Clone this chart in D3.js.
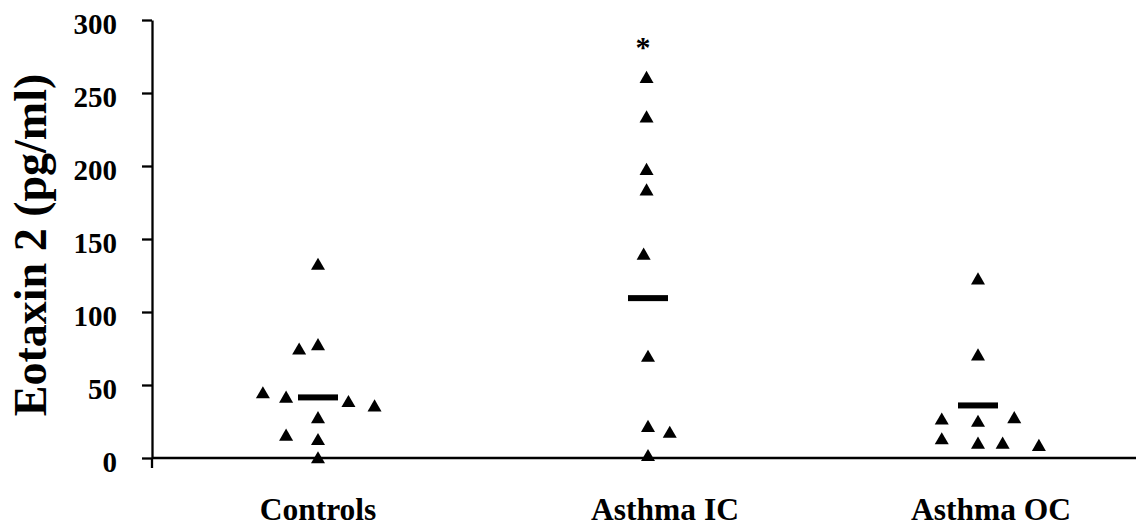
<!DOCTYPE html>
<html>
<head>
<meta charset="utf-8">
<script src="https://cdn.jsdelivr.net/npm/d3@7"></script>
<style>
  body { margin: 0; background: #fff; }
  text { font-family: "Liberation Serif", "Times New Roman", serif; font-weight: bold; fill: #000; }
</style>
</head>
<body>
<svg id="chart" width="1136" height="529"></svg>
<script>
// groups on the x axis
const categories = ["Controls", "Asthma IC", "Asthma OC"]
const yTicks = [0, 50, 100, 150, 200, 250, 300]

// eotaxin 2 values (pg/ml)
const controlsValues = [133, 75, 78, 45, 42, 39, 36, 28, 16, 13, 0.5]
const asthmaICValues = [261, 234, 198, 184, 140, 70, 22, 18, 2]
const asthmaOCValues = [123, 71, 27, 25.5, 28, 13.5, 10.5, 10.5, 9]

// side-by-side slot of each point (dot plot spread), in slot units
const controlsSlots = [0, -0.65, 0, -1.9, -1.1, 1.05, 1.95, 0, -1.1, 0, 0]
const asthmaICSlots = [-0.05, -0.05, -0.05, -0.05, -0.15, 0, 0, 0.75, 0]
const asthmaOCSlots = [0, 0, -1.25, 0, 1.25, -1.25, 0, 0.85, 2.1]

// group means (horizontal bars)
const meanValues = [41.5, 109.5, 36]
const significant = [false, true, false]

const svg = d3.select('#chart')
const axisX = 152
const yZero = 458, yTop = 20

const y = d3.scaleLinear().domain([0, 300]).range([yZero, yTop])
const x = d3.scalePoint().domain(categories).range([153, 1143]).padding(0.5)
const slot = d3.scaleLinear().domain([0, 1]).range([0, 29])

const groups = [controlsValues, asthmaICValues, asthmaOCValues].map(function(vals, i) {
    const slots = [controlsSlots, asthmaICSlots, asthmaOCSlots][i]
    return vals.map(function(v, j) { return {cat: categories[i], value: v, slot: slots[j]} })
})
const points = groups.flat()

// y axis
const yAxis = d3.axisLeft(y)
    .tickValues(yTicks)
    .tickSize(10)
    .tickSizeOuter(0)
    .tickPadding(25)

const ga = svg.append('g')
    .attr('transform', `translate(${axisX},0)`)
    .call(yAxis)
ga.selectAll('path, line').attr('stroke', '#000').attr('stroke-width', 2.3)
ga.selectAll('text')
    .style('font-size', '29px')
    .attr('dy', '0.45em')

// little stub of the y axis under zero
svg.append('line')
    .attr('x1', axisX).attr('x2', axisX)
    .attr('y1', y(0)).attr('y2', y(0) + 10)
    .attr('stroke', '#000').attr('stroke-width', 2.3)

// x axis line
svg.append('line')
    .attr('x1', axisX).attr('x2', 1136)
    .attr('y1', y(0)).attr('y2', y(0))
    .attr('stroke', '#000').attr('stroke-width', 2.3)

// y title
svg.append('text')
    .attr('transform', 'translate(46,245) rotate(-90)')
    .attr('text-anchor', 'middle')
    .style('font-size', '46px')
    .text('Eotaxin 2 (pg/ml)')

// category labels
const labelShift = [0, 17, 13]
svg.selectAll('text.cat')
    .data(categories)
    .join('text')
    .attr('class', 'cat')
    .attr('x', function(d, i) { return x(d) + labelShift[i] })
    .attr('y', 520)
    .attr('text-anchor', 'middle')
    .style('font-size', '31.5px')
    .text(function(d) { return d })

// triangles
const tri = d3.symbol().type(d3.symbolTriangle).size(85)
svg.selectAll('path.pt')
    .data(points)
    .join('path')
    .attr('class', 'pt')
    .attr('d', tri)
    .attr('transform', function(d) { return `translate(${x(d.cat) + slot(d.slot)},${y(d.value) + 2})` })
    .attr('fill', '#000')

// mean bars
svg.selectAll('rect.mean')
    .data(meanValues)
    .join('rect')
    .attr('class', 'mean')
    .attr('x', function(d, i) { return x(categories[i]) - 20 })
    .attr('y', function(d) { return y(d) - 3 })
    .attr('width', 40)
    .attr('height', 6)
    .attr('fill', '#000')

// asterisk over significant group
svg.selectAll('text.star')
    .data(categories.filter(function(c, i) { return significant[i] }))
    .join('text')
    .attr('class', 'star')
    .attr('x', function(d) { return x(d) - 5 })
    .attr('y', function(d) { return y(d3.max(asthmaICValues) + 23) })
    .attr('dy', '0.46em')
    .attr('text-anchor', 'middle')
    .style('font-size', '30px')
    .text('*')
</script>
</body>
</html>
